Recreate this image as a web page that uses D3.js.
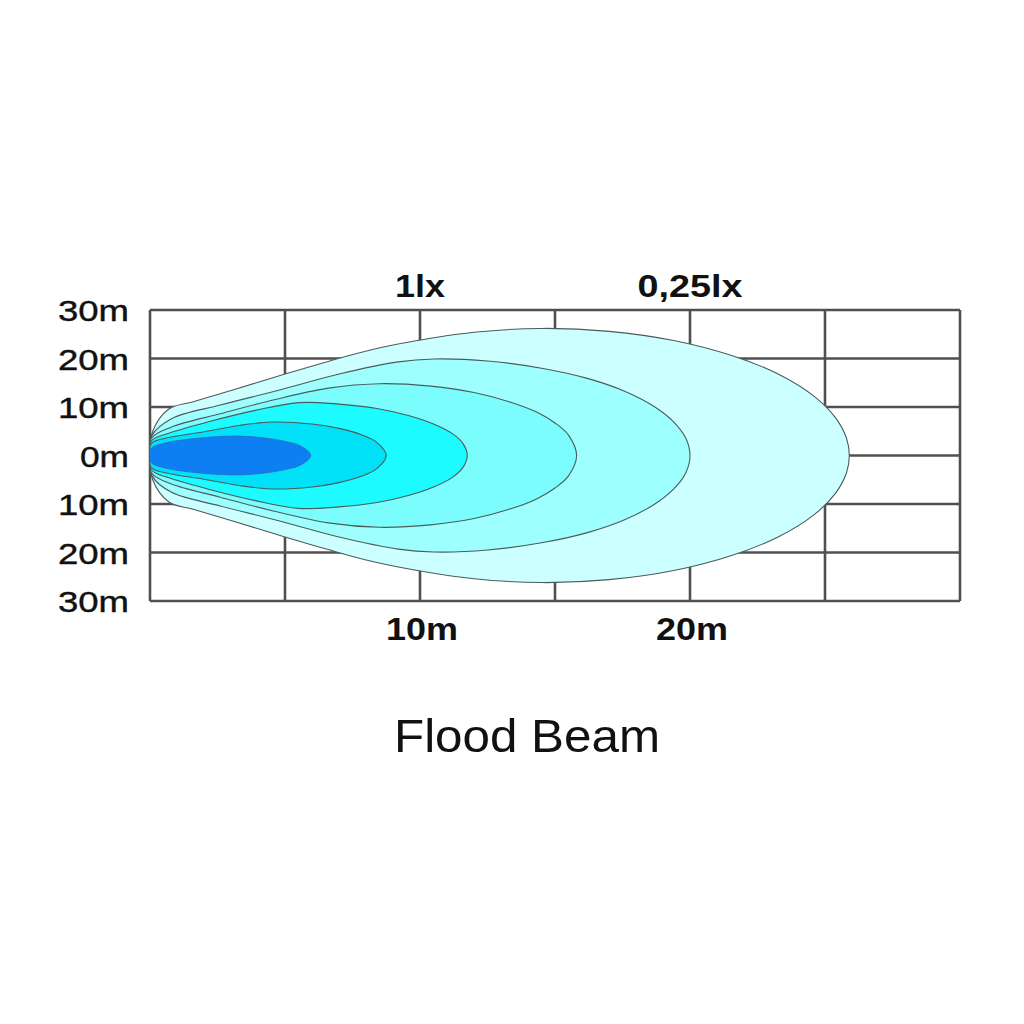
<!DOCTYPE html>
<html><head><meta charset="utf-8">
<script src="https://cdn.jsdelivr.net/npm/d3@7"></script>
<style>body{margin:0;background:#fff}svg{display:block}</style>
</head><body>
<svg id="c" width="1024" height="1024"></svg>
<script>
// Data (distance in m along beam, half-width in m), upper half of each isolux contour
const contourOuter = [[0,0],[0.1,5],[0.7,9.6],[1.6,11.1],[3,13.4],[5,16.8],[6.6,19.4],[8.2,21.8],[9.8,23.6],[12,25.4],[14.5,26.2],[17,25.6],[19.4,23.7],[21.6,20.5],[23.3,16.7],[24.6,12.2],[25.4,7.7],[25.8,3.5],[25.9,0]];
const contour2 = [[0,0],[0.08,4.2],[0.8,7.6],[2.6,10.4],[4.8,13.5],[7,16.8],[9.2,19.3],[10.5,19.9],[12.5,19.5],[14.5,18],[16.2,15.9],[17.6,13.2],[18.7,10],[19.4,6.9],[19.85,3.5],[20,0]];
const contour3 = [[0,0],[0.06,3.6],[0.8,5.9],[2.6,8.6],[4.6,11.5],[6.6,13.9],[8.5,14.8],[10.4,14.3],[12,13],[13.3,11.1],[14.3,9],[15,6.7],[15.5,4.2],[15.8,0]];
const contour4 = [[0,0],[0.05,3],[0.7,4.6],[2.2,7],[3.9,9.3],[5.5,10.9],[7,10.6],[8.4,9.7],[9.6,8.2],[10.5,6.5],[11.2,4.5],[11.6,2.4],[11.75,0]];
const contour5 = [[0,0],[0.05,2.5],[0.6,3.6],[2,4.9],[3.3,6.2],[4.5,6.9],[6,6.5],[7,5.6],[7.8,4.35],[8.4,2.7],[8.75,0]];
const contourCore = [[0,0],[0.05,1.5],[0.5,2.5],[1.5,3.4],[3,4.0],[4.1,3.7],[5,2.9],[5.6,1.9],[5.95,0]];
const contours = [contourOuter, contour2, contour3, contour4, contour5, contourCore];
const fills = ["#ccffff","#9effff","#7bfdfd","#1cfbff","#00e1f7","#0d7ff2"];

const xTicks = [0,5,10,15,20,25,30];
const yTicks = [-30,-20,-10,0,10,20,30];
const yTickLabels = ["30m","20m","10m","0m","10m","20m","30m"];
const xLabelValues = [10,20];
const xLabels = ["10m","20m"];
const topLabelValues = [10,20];
const topLabels = ["1lx","0,25lx"];
const title = "Flood Beam";

const svg = d3.select("#c");
const x = d3.scaleLinear().domain([0,30]).range([150,960]);
const y = d3.scaleLinear().domain([-30,30]).range([601,310]);

// grid
const grid = svg.append("g").attr("stroke","#505050").attr("stroke-width",2.6);
grid.selectAll("line.h").data(yTicks).join("line").attr("class","h")
  .attr("x1",x(0)).attr("x2",x(30)).attr("y1",d=>y(d)).attr("y2",d=>y(d));
grid.selectAll("line.v").data(xTicks).join("line").attr("class","v")
  .attr("x1",d=>x(d)).attr("x2",d=>x(d)).attr("y1",y(30)).attr("y2",y(-30));

// contours
const line = d3.line().x(d=>x(d[0])).y(d=>y(d[1])).curve(d3.curveCatmullRomClosed.alpha(0.5));
function closedPts(up){
  const lower = up.slice(1, up.length-1).reverse().map(p=>[p[0],-p[1]]);
  return up.concat(lower);
}
svg.append("g").selectAll("path").data(contours).join("path")
  .attr("d",d=>line(closedPts(d)))
  .attr("fill",(d,i)=>fills[i])
  .attr("stroke",(d,i)=> i===5 ? "#2a6cc0" : "#4a5c5c")
  .attr("stroke-width",(d,i)=> i===5 ? 0.8 : 1.1);

// y labels
svg.append("g").selectAll("text").data(yTicks).join("text")
  .attr("x",129).attr("y",d=>y(d)+11)
  .attr("text-anchor","end")
  .attr("font-family","Liberation Sans, Arial, sans-serif")
  .attr("font-size",29).attr("fill","#111")
  .attr("stroke","#111").attr("stroke-width",0.4)
  .attr("textLength",(d,i)=> yTickLabels[i].length===3 ? 71 : 49)
  .attr("lengthAdjust","spacingAndGlyphs")
  .text((d,i)=>yTickLabels[i]);

// x labels
svg.append("g").selectAll("text").data(xLabelValues).join("text")
  .attr("x",d=>x(d)+2).attr("y",640)
  .attr("text-anchor","middle")
  .attr("font-family","Liberation Sans, Arial, sans-serif")
  .attr("font-weight","bold").attr("font-size",32).attr("fill","#111")
  .attr("textLength",72).attr("lengthAdjust","spacingAndGlyphs")
  .text((d,i)=>xLabels[i]);

// top labels
svg.append("g").selectAll("text").data(topLabelValues).join("text")
  .attr("x",d=>x(d)).attr("y",297)
  .attr("text-anchor","middle")
  .attr("font-family","Liberation Sans, Arial, sans-serif")
  .attr("font-weight","bold").attr("font-size",31).attr("fill","#111")
  .attr("textLength",(d,i)=> i===0 ? 50 : 105).attr("lengthAdjust","spacingAndGlyphs")
  .text((d,i)=>topLabels[i]);

// title
svg.append("text").attr("x",527).attr("y",752)
  .attr("text-anchor","middle")
  .attr("font-family","Liberation Sans, Arial, sans-serif")
  .attr("font-size",47).attr("fill","#111")
  .attr("textLength",266).attr("lengthAdjust","spacingAndGlyphs")
  .text(title);
</script>
</body></html>
